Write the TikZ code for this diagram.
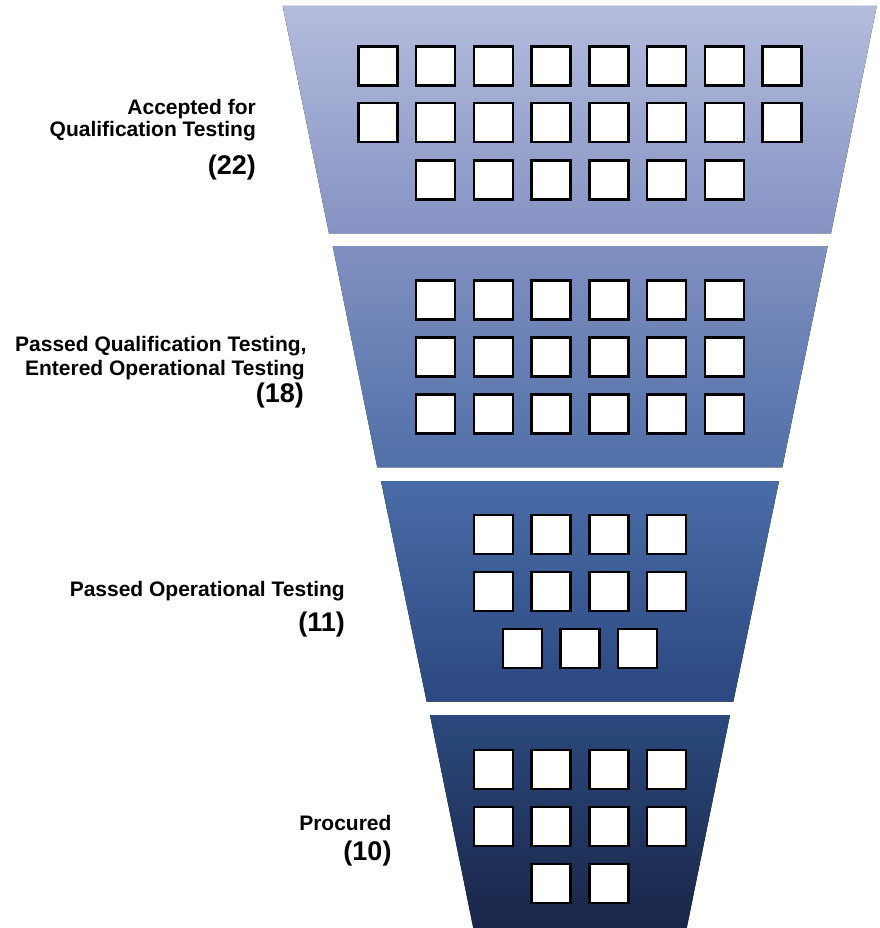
\documentclass[tikz,border=0pt]{standalone}
\usepackage{fontspec}
\setmainfont{Liberation Sans}
\definecolor{cat}{HTML}{B4BCDD}
\definecolor{cab}{HTML}{8593C3}
\definecolor{cbt}{HTML}{8090C0}
\definecolor{cbb}{HTML}{5070A8}
\definecolor{cct}{HTML}{4A6CA6}
\definecolor{ccm}{HTML}{345A98}
\definecolor{ccb}{HTML}{2B4880}
\definecolor{cdt}{HTML}{2B4A7E}
\definecolor{cdb}{HTML}{1A2548}
\begin{document}
\begin{tikzpicture}[x=1pt,y=-1pt,
  box/.style={draw=black,line width=2.4pt,fill=white,minimum size=39pt,inner sep=0pt},
  lbl/.style={anchor=base east,inner sep=0pt,font=\fontsize{21}{24}\selectfont\bfseries},
  num/.style={anchor=base east,inner sep=0pt,font=\fontsize{27}{30}\selectfont\bfseries}]
\useasboundingbox (0,0) rectangle (879,928);
% funnel stages
\fill[top color=cat,bottom color=cab] (282.7,6) -- (876.7,6) -- (831,233.3) -- (329,233.3) -- cycle;
\fill[top color=cbt,bottom color=cbb] (332.7,246) -- (827.7,246) -- (782.3,467.3) -- (377.3,467.3) -- cycle;
\fill[top color=cct,middle color=ccm,bottom color=ccb] (381,481) -- (779,481) -- (733.3,701.7) -- (426.7,701.7) -- cycle;
\fill[top color=cdt,bottom color=cdb] (430,715) -- (730,715) -- (686.7,928) -- (473.3,928) -- cycle;
% squares
\foreach \n/\y/\r in {8/66/a,8/122.5/b,6/180/c,6/300/d,6/357/e,6/414/f,4/534.2/g,4/591.3/h,3/648.3/i,4/769.2/j,4/826.5/k,2/883.3/l}{
  \foreach \i in {1,...,\n}{
    \node[box] (sq-\r-\i) at ({580+(\i-(\n+1)/2)*57.7},\y) {};
  }
}
% labels
\node[lbl] (l1a) at (256,115) {Accepted for};
\node[lbl] (l1b) at (256,136.7) {Qualification Testing};
\node[num] (l1n) at (256,174.4) {(22)};
\node[lbl] (l2a) at (306.7,351.7) {Passed Qualification Testing,};
\node[lbl] (l2b) at (305,375) {Entered Operational Testing};
\node[num] (l2n) at (304,402.7) {(18)};
\node[lbl] (l3a) at (345,596) {Passed Operational Testing};
\node[num] (l3n) at (345,631.5) {(11)};
\node[lbl] (l4a) at (391.7,830.7) {Procured};
\node[num] (l4n) at (391.7,860.5) {(10)};
\end{tikzpicture}
\end{document}
